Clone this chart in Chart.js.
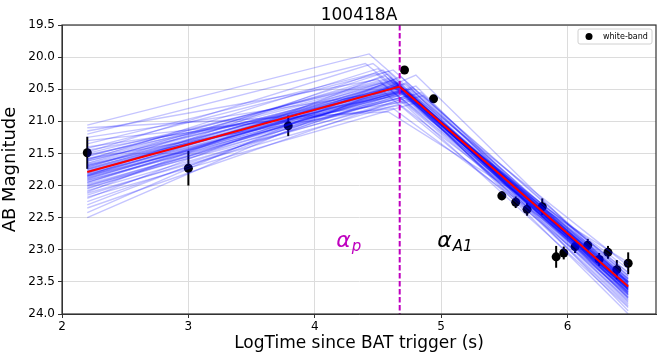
<!DOCTYPE html>
<html>
<head>
<meta charset="utf-8">
<script src="https://cdn.jsdelivr.net/npm/chart.js@4"></script>
<style>
  html, body { margin: 0; padding: 0; background: #fff; }
  #wrap { width: 665px; height: 360px; }
</style>
</head>
<body>
<div id="wrap"><canvas id="lcChart" width="665" height="360"></canvas></div>
<script>
// observed white-band points (log time, magnitude, error)
const obsLogT = [2.20, 3.00, 3.79, 4.71, 4.94, 5.48, 5.59, 5.68, 5.80, 5.91, 5.97, 6.06, 6.16, 6.25, 6.32, 6.39, 6.48];
const obsMag  = [21.49, 21.73, 21.07, 20.20, 20.65, 22.16, 22.26, 22.37, 22.33, 23.11, 23.05, 22.95, 22.93, 23.15, 23.04, 23.31, 23.21];
const obsErr  = [0.25, 0.27, 0.16, 0.03, 0.03, 0.07, 0.09, 0.10, 0.13, 0.17, 0.10, 0.10, 0.10, 0.10, 0.10, 0.15, 0.17];

// best fit broken power law (red)
const fitLogT = [2.20, 4.672, 6.48];
const fitMag  = [21.79, 20.46, 23.57];

// posterior sample lines (blue): start mag, break time, break mag, end mag
const sampleStartT = 2.20;
const sampleEndT = 6.48;
const sampleStart = [21.06,21.15,21.20,21.25,21.30,21.35,21.40,21.42,21.45,21.50,21.52,21.55,21.58,21.60,21.62,21.65,21.68,21.70,21.72,21.75,21.78,21.80,21.82,21.85,21.88,21.90,21.92,21.95,21.98,22.00,22.02,22.05,22.08,22.10,22.12,22.15,22.18,22.20,22.25,22.30,22.35,22.42,22.50,21.48,21.85,21.10,22.00,21.60,
    21.62,21.70,21.74,21.78,21.80,21.84,21.86,21.90,21.94,21.76,21.66,21.82,21.88,21.72,21.96,21.58,21.92,21.68,21.84,21.78,22.04,21.54,21.86,21.74];
const sampleBreakT = [4.43,4.50,4.40,4.55,4.62,4.48,4.70,4.58,4.66,4.52,4.74,4.60,4.68,4.64,4.72,4.56,4.70,4.66,4.62,4.76,4.68,4.60,4.72,4.66,4.70,4.64,4.78,4.62,4.74,4.68,4.80,4.66,4.72,4.58,4.76,4.70,4.82,4.64,4.78,4.72,4.84,4.68,4.80,4.46,4.54,4.58,4.86,4.50,
    4.66,4.68,4.64,4.70,4.66,4.72,4.62,4.68,4.70,4.66,4.64,4.70,4.68,4.72,4.66,4.62,4.70,4.68,4.64,4.66,4.70,4.60,4.74,4.68];
const sampleBreakMag = [19.95,20.35,20.10,20.55,20.80,20.25,20.70,20.22,20.60,20.40,20.50,20.32,20.75,20.38,20.42,20.30,20.62,20.44,20.20,20.50,20.46,20.36,20.52,20.65,20.55,20.48,20.58,20.44,20.60,20.52,20.45,20.50,20.64,20.26,20.68,20.58,20.70,20.34,20.48,20.40,20.55,20.30,20.28,20.10,20.20,20.85,20.60,20.18,
    20.42,20.46,20.40,20.50,20.44,20.52,20.38,20.48,20.54,20.46,20.40,20.50,20.48,20.52,20.44,20.36,20.56,20.44,20.42,20.48,20.58,20.34,20.54,20.46];
const sampleEnd = [23.45,23.60,23.35,23.70,23.50,23.40,23.65,23.80,23.55,23.30,23.60,23.75,23.45,23.62,23.50,23.85,23.58,23.68,23.40,23.55,23.72,23.62,23.48,23.90,23.60,23.52,23.66,23.78,23.44,23.58,23.70,23.36,23.62,23.82,23.50,23.64,23.56,23.74,23.42,23.95,23.60,23.68,23.52,23.25,24.00,23.20,23.76,23.88,
    23.55,23.62,23.50,23.66,23.58,23.60,23.48,23.70,23.56,23.64,23.52,23.58,23.68,23.54,23.62,23.46,23.60,23.74,23.56,23.50,23.66,23.58,23.62,23.52];

const breakLogT = 4.672;
const yTicks = [19.5, 20.0, 20.5, 21.0, 21.5, 22.0, 22.5, 23.0, 23.5, 24.0];
const xTicks = [2, 3, 4, 5, 6];

const FONT = "'DejaVu Sans', sans-serif";
const MAGENTA = '#bf00bf';

// datasets: first one is drawn on top
const datasets = [];
datasets.push({
    type: 'line',
    label: 'fit',
    data: fitLogT.map((t, i) => ({ x: t, y: fitMag[i] })),
    borderColor: '#ff0000',
    borderWidth: 2,
    pointRadius: 0,
    tension: 0
});
sampleStart.forEach((s, i) => {
    datasets.push({
        type: 'line',
        label: 'sample',
        data: [
            { x: sampleStartT, y: s },
            { x: sampleBreakT[i], y: sampleBreakMag[i] },
            { x: sampleEndT, y: sampleEnd[i] }
        ],
        borderColor: 'rgba(0, 0, 255, 0.23)',
        borderWidth: 1.4,
        pointRadius: 0,
        tension: 0
    });
});
datasets.push({
    type: 'scatter',
    label: 'white-band',
    data: obsLogT.map((t, i) => ({ x: t, y: obsMag[i] })),
    backgroundColor: '#000',
    borderColor: '#000',
    pointRadius: 4.5,
    borderWidth: 0
});

// draws a symbol with a subscript, starting at px
function subLabel(ctx, main, sub, px, py, color) {
    ctx.fillStyle = color;
    ctx.font = 'italic 22px ' + FONT;
    ctx.fillText(main, px, py);
    const w = ctx.measureText(main).width;
    ctx.font = 'italic 15px ' + FONT;
    ctx.fillText(sub, px + w + 1, py + 4);
}

// error bars, break line, labels, frame, legend, title
const decorPlugin = {
    id: 'decor',
    beforeDatasetsDraw(chart) {
        const { ctx, scales: { x, y } } = chart;
        ctx.save();
        ctx.strokeStyle = '#000';
        ctx.lineWidth = 2;
        obsLogT.forEach((t, i) => {
            const px = x.getPixelForValue(t);
            ctx.beginPath();
            ctx.moveTo(px, y.getPixelForValue(obsMag[i] - obsErr[i]));
            ctx.lineTo(px, y.getPixelForValue(obsMag[i] + obsErr[i]));
            ctx.stroke();
        });
        ctx.restore();
    },
    afterDatasetsDraw(chart) {
        const { ctx, chartArea: a, scales: { x, y } } = chart;
        ctx.save();
        // vertical break line
        const bx = x.getPixelForValue(breakLogT);
        ctx.strokeStyle = MAGENTA;
        ctx.lineWidth = 2;
        ctx.setLineDash([5.5, 2.5]);
        ctx.beginPath();
        ctx.moveTo(bx, a.top);
        ctx.lineTo(bx, a.bottom);
        ctx.stroke();
        ctx.setLineDash([]);

        // slope labels
        ctx.textBaseline = 'alphabetic';
        ctx.textAlign = 'left';
        const ly = y.getPixelForValue(22.96);
        subLabel(ctx, 'α', 'p', x.getPixelForValue(4.17), ly, MAGENTA);
        subLabel(ctx, 'α', 'A1', x.getPixelForValue(4.97), ly, '#000');

        // frame
        ctx.strokeStyle = '#333';
        ctx.lineWidth = 1.2;
        ctx.strokeRect(a.left, a.top, a.right - a.left, a.bottom - a.top);

        // legend
        const lx = a.right - 78, lyTop = a.top + 4;
        ctx.fillStyle = 'rgba(255,255,255,0.85)';
        ctx.strokeStyle = '#d0d0d0';
        ctx.lineWidth = 1;
        ctx.beginPath();
        ctx.roundRect(lx, lyTop, 74, 15, 2);
        ctx.fill();
        ctx.stroke();
        ctx.fillStyle = '#000';
        ctx.beginPath();
        ctx.arc(lx + 11, lyTop + 7.5, 3.5, 0, Math.PI * 2);
        ctx.fill();
        ctx.font = '8px ' + FONT;
        ctx.textBaseline = 'middle';
        ctx.fillText('white-band', lx + 25, lyTop + 8);

        // title centred over the plot area
        ctx.font = '17px ' + FONT;
        ctx.textAlign = 'center';
        ctx.textBaseline = 'alphabetic';
        ctx.fillText('100418A', (a.left + a.right) / 2, a.top - 5);
        ctx.restore();
    }
};

new Chart(document.getElementById('lcChart'), {
    data: { datasets: datasets },
    options: {
        responsive: false,
        animation: false,
        layout: { padding: { top: 25, right: 9, left: 0, bottom: 0 } },
        plugins: {
            legend: { display: false },
            title: { display: false },
            tooltip: { enabled: false }
        },
        scales: {
            x: {
                type: 'linear',
                min: 2,
                max: 6.7,
                afterBuildTicks: scale => { scale.ticks = xTicks.map(v => ({ value: v })); },
                afterFit: scale => { scale.height = 46; },
                ticks: {
                    color: '#000',
                    font: { family: FONT, size: 12 },
                    padding: 2,
                    maxRotation: 0,
                    callback: v => String(v)
                },
                grid: { color: '#dcdcdc', tickColor: '#333', tickLength: 4, lineWidth: 1 },
                border: { color: '#333', width: 1 },
                title: {
                    display: true,
                    text: 'LogTime since BAT trigger (s)',
                    color: '#000',
                    font: { family: FONT, size: 17 },
                    padding: { top: 2, bottom: 6 }
                }
            },
            y: {
                type: 'linear',
                reverse: true,
                min: 19.5,
                max: 24.0,
                afterBuildTicks: scale => { scale.ticks = yTicks.map(v => ({ value: v })); },
                afterFit: scale => { scale.width = 62; },
                ticks: {
                    color: '#000',
                    font: { family: FONT, size: 12 },
                    padding: 3,
                    callback: v => v.toFixed(1)
                },
                grid: { color: '#dcdcdc', tickColor: '#333', tickLength: 4, lineWidth: 1 },
                border: { color: '#333', width: 1 },
                title: {
                    display: true,
                    text: 'AB Magnitude',
                    color: '#000',
                    font: { family: FONT, size: 18 },
                    padding: { top: 0, bottom: 2 }
                }
            }
        }
    },
    plugins: [decorPlugin]
});
</script>
</body>
</html>
